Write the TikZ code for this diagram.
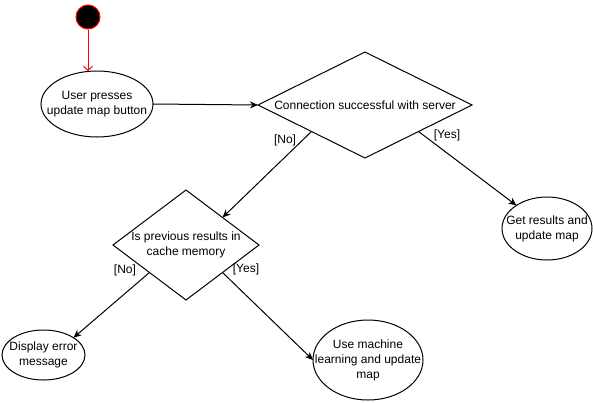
\documentclass[tikz,border=0pt]{standalone}
\usepackage{fontspec}
\setmainfont{Liberation Sans}
\usetikzlibrary{shapes.geometric,arrows.meta,calc}

\tikzset{
  base/.style={draw=black, line width=1pt, outer sep=0pt, align=center,
    font=\fontsize{12}{15}\selectfont, text=black},
  activity/.style={base, ellipse, inner sep=-40pt},
  decision/.style={base, diamond, inner sep=-60pt},
  initial/.style={circle, draw=red, fill=black, line width=1pt,
    minimum size=24pt, inner sep=0pt},
  guard/.style={font=\fontsize{12}{15}\selectfont, inner sep=0pt, text=black},
  flow/.style={draw=black, line width=1pt, -{Stealth[length=8pt,width=7pt,inset=2.5pt]}},
  startflow/.style={draw=red, line width=1pt, -{Straight Barb[length=4pt,width=9pt]}}
}

\begin{document}
\begin{tikzpicture}[x=1pt,y=-1pt]
  \useasboundingbox (0,0) rectangle (593,402);

  % start state
  \node[initial] (s) at (88,17) {};

  % activities and decisions
  \node[activity, minimum width=112pt, minimum height=66pt] (u) at (97,104)
    {User presses\\update map button};
  \node[decision, minimum width=214pt, minimum height=106pt] (d1) at (365,105)
    {Connection successful with server};
  \node[activity, minimum width=90pt, minimum height=63pt] (res) at (547,228.5)
    {Get results and\\update map};
  \node[decision, minimum width=146pt, minimum height=110pt] (d2) at (186,245)
    {Is previous results in\\cache memory};
  \node[activity, minimum width=83pt, minimum height=50pt] (err) at (43.5,355)
    {Display error\\message};
  \node[activity, minimum width=110pt, minimum height=80pt] (ml) at (368,360)
    {Use machine\\learning and update\\map};

  % guard labels
  \node[guard] (no1) at (285,140) {[No]};
  \node[guard] (yes1) at (447,135) {[Yes]};
  \node[guard] (no2) at (125,270) {[No]};
  \node[guard] (yes2) at (246,269) {[Yes]};

  % control flow
  \draw[startflow] (s.south) -- (s.south |- u.north);
  \draw[flow] (u.east) -- (d1.west);
  \draw[flow] (d1.south west) -- (d2.north east);
  \draw[flow] (d1.south east) -- (res);
  \draw[flow] (d2.south west) -- (err.30);
  \draw[flow] (d2.south east) -- (ml.west);
\end{tikzpicture}
\end{document}
